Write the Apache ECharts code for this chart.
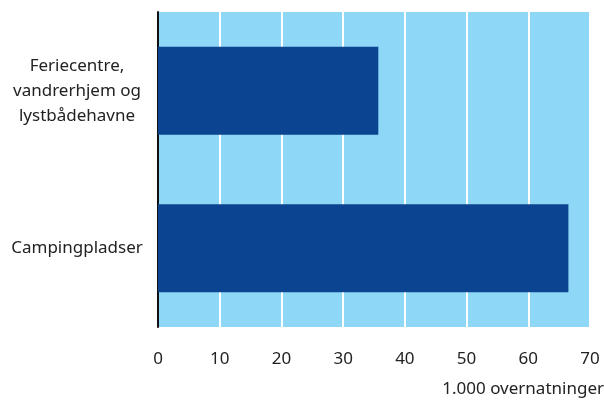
<!DOCTYPE html>
<html>
<head>
<meta charset="utf-8">
<script src="https://cdn.jsdelivr.net/npm/echarts@6/dist/echarts.min.js"></script>
<style>
  html, body { margin: 0; padding: 0; background: #fff; }
  #chart { width: 604px; height: 400px; }
</style>
</head>
<body>
<div id="chart"></div>
<script>
// categories bottom to top (category axis starts at the bottom)
const categories = ['Campingpladser', 'Feriecentre,\nvandrerhjem og\nlystbådehavne'];
const values = [66.5, 35.7];
const axisName = '1.000 overnatninger';

const chart = echarts.init(document.getElementById('chart'));
chart.setOption({
    animation: false,
    textStyle: { fontFamily: 'Noto Sans' },
    grid: {
        left: 158,
        right: 14,
        top: 12,
        bottom: 73,
        outerBoundsMode: 'none',
        containLabel: false,
        show: true,
        backgroundColor: '#8ed7f6',
        borderWidth: 0
    },
    xAxis: {
        type: 'value',
        min: 0,
        max: 70,
        interval: 10,
        axisLine: { show: false },
        axisTick: { show: false },
        axisLabel: { color: '#222', fontSize: 17, margin: 24 },
        splitLine: { lineStyle: { color: '#fff', width: 2 } },
        name: axisName,
        nameLocation: 'end',
        nameGap: 14,
        nameTextStyle: {
            color: '#222',
            fontSize: 17,
            align: 'right',
            verticalAlign: 'top',
            padding: [54, 0, 0, 0]
        }
    },
    yAxis: {
        type: 'category',
        data: categories,
        axisLine: { show: true, lineStyle: { color: '#111', width: 2 } },
        axisTick: { show: false },
        axisLabel: {
            color: '#222',
            fontSize: 17,
            align: 'center',
            margin: 81,
            lineHeight: 25
        }
    },
    series: [{
        type: 'bar',
        data: values,
        barWidth: 88,
        itemStyle: { color: '#0b4592' }
    }]
});
</script>
</body>
</html>
